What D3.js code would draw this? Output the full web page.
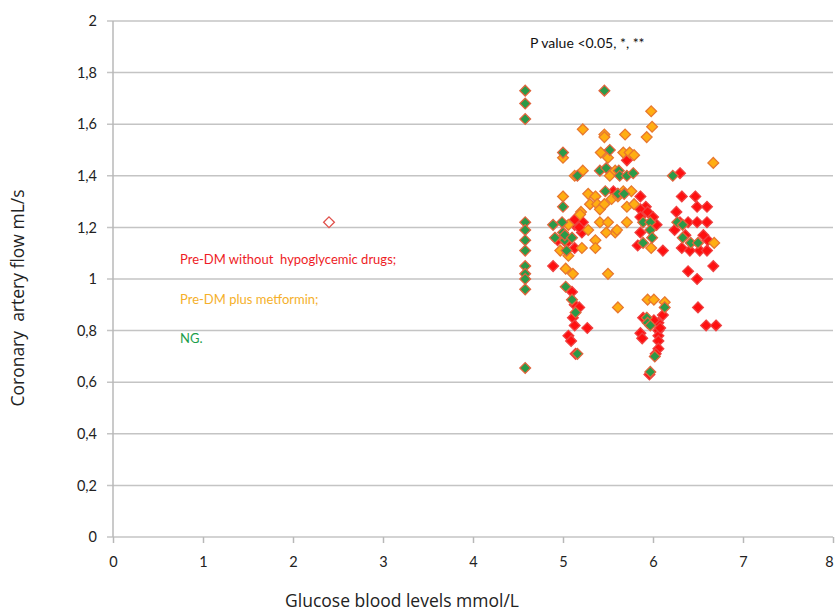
<!DOCTYPE html>
<html>
<head>
<meta charset="utf-8">
<script src="https://cdn.jsdelivr.net/npm/d3@7"></script>
<style>
  body { margin: 0; background: #fff; }
  svg { display: block; font-family: Lato, "Open Sans", sans-serif; }
</style>
</head>
<body>
<svg width="835" height="615"></svg>
<script>
//////////// DATA ////////////
// [glucose mmol/L, coronary flow mL/s]
var preDmNoDrug = [
  [4.89,1.05],[5.13,1.21],[5.22,1.22],[5.21,1.18],[5.13,1.12],[5.13,1.23],[4.94,1.15],[5.04,1.14],
  [5.10,0.95],[5.13,0.90],[5.18,0.89],[5.11,0.85],[5.13,0.82],[5.27,0.81],[5.06,0.78],[5.09,0.76],
  [5.14,0.71],[5.56,1.34],[5.71,1.46],[5.86,1.32],[5.92,1.28],[5.86,1.27],[5.94,1.26],[5.86,1.24],
  [6.00,1.24],[6.04,1.21],[5.86,1.18],[5.83,1.13],[6.11,1.11],[6.30,1.41],[6.32,1.32],[6.47,1.32],
  [6.49,1.28],[6.60,1.28],[6.26,1.26],[6.30,1.22],[6.39,1.22],[6.49,1.22],[6.60,1.22],[6.32,1.12],
  [6.41,1.11],[6.52,1.11],[6.60,1.11],[6.39,1.03],[6.49,1.00],[6.50,0.89],[6.59,0.82],[6.70,0.82],
  [6.67,1.05],[6.61,1.15],[5.89,0.85],[6.11,0.86],[6.06,0.83],[5.86,0.79],[5.88,0.77],[6.06,0.80],
  [6.06,0.78],[6.06,0.76],[6.06,0.73],[6.03,0.71],[5.96,0.63],[6.01,0.84],[6.08,0.81],[5.61,1.33],
  [6.24,1.19],[6.36,1.17],[6.56,1.17],[5.18,1.20]
];

var preDmMetformin = [
  [5.22,1.58],[5.46,1.56],[5.46,1.55],[5.00,1.47],[5.42,1.49],[5.50,1.47],[5.13,1.40],[5.22,1.42],
  [5.52,1.40],[5.58,1.42],[5.00,1.32],[5.28,1.33],[5.36,1.32],[5.30,1.29],[5.38,1.29],[5.41,1.27],
  [5.46,1.29],[5.54,1.31],[5.61,1.32],[5.20,1.26],[5.06,1.21],[5.19,1.25],[5.28,1.19],[5.36,1.15],
  [5.36,1.12],[5.21,1.12],[5.06,1.09],[5.03,1.04],[5.11,1.02],[5.41,1.22],[5.50,1.22],[5.58,1.18],
  [5.48,1.18],[5.50,1.02],[5.61,0.89],[5.98,1.65],[5.99,1.59],[5.93,1.55],[5.69,1.56],[5.67,1.49],
  [5.74,1.49],[5.79,1.48],[5.67,1.34],[5.76,1.34],[5.71,1.28],[5.79,1.29],[5.71,1.22],[5.60,1.19],
  [5.98,1.12],[5.94,0.92],[6.01,0.92],[6.13,0.91],[6.67,1.45],[6.68,1.14],[4.97,1.11]
];

var normoGlycemic = [
  [4.58,1.73],[4.58,1.68],[4.58,1.62],[4.58,1.22],[4.58,1.19],[4.58,1.15],[4.58,1.11],[4.58,1.05],
  [4.58,1.02],[4.58,1.00],[4.58,0.96],[4.58,0.655],
  [5.46,1.73],[5.00,1.49],[5.52,1.50],[5.16,1.40],[5.41,1.42],[5.48,1.43],[5.00,1.28],[5.47,1.34],
  [4.89,1.21],[4.99,1.22],[5.00,1.18],[4.91,1.16],[5.02,1.15],[5.04,1.11],[5.02,1.17],[5.10,1.16],
  [5.03,0.97],[5.10,0.92],[5.14,0.87],[5.16,0.71],[5.62,1.42],[5.63,1.40],[5.71,1.40],[5.78,1.41],
  [6.22,1.40],[5.61,1.33],[5.68,1.33],[5.89,1.22],[5.97,1.22],[5.97,1.19],[5.99,1.16],[5.89,1.14],
  [6.33,1.16],[6.42,1.14],[6.50,1.14],[6.27,1.22],[6.33,1.21],[6.13,0.89],[5.93,0.85],[5.94,0.83],
  [5.97,0.82],[6.02,0.70],[5.97,0.64]
];

var outlier = [[2.40,1.22]];

var xTicks = [0,1,2,3,4,5,6,7,8];
var yTicks = [0,0.2,0.4,0.6,0.8,1,1.2,1.4,1.6,1.8,2];

var legendLabels = ["Pre-DM without  hypoglycemic drugs;", "Pre-DM plus metformin;", "NG."];
var legendColors = ["#ee1c25", "#f5b02a", "#1b9e4b"];

//////////// SETUP ////////////
var svg = d3.select("svg");
var margin = {left: 113, right: 2, top: 21, bottom: 78};
var width = 835, height = 615;

var x = d3.scaleLinear().domain([0, 8]).range([margin.left, width - margin.right]);
var y = d3.scaleLinear().domain([0, 2]).range([height - margin.bottom, margin.top]);

var fmt = function(d) { return d3.format("")(+d.toFixed(1)).replace(".", ","); };

//////////// GRID + AXES ////////////
svg.append("g")
    .attr("class", "grid")
  .selectAll("line")
  .data(yTicks)
  .enter().append("line")
    .attr("x1", x(0) - 6)
    .attr("x2", x(8))
    .attr("y1", function(d) { return y(d); })
    .attr("y2", function(d) { return y(d); })
    .attr("stroke", "#c4c4c4")
    .attr("stroke-width", 1.5);

// vertical axis line
svg.append("line")
    .attr("x1", x(0)).attr("x2", x(0))
    .attr("y1", y(2)).attr("y2", y(0))
    .attr("stroke", "#b8b8b8")
    .attr("stroke-width", 1.5);

var yAxis = d3.axisLeft(y).tickValues(yTicks).tickSize(0).tickPadding(16).tickFormat(fmt);
svg.append("g")
    .attr("transform", "translate(" + x(0) + ",0)")
    .call(yAxis)
    .call(function(g) { g.select(".domain").remove(); })
    .selectAll("text")
    .attr("font-size", 14.5)
    .attr("font-family", "Lato, sans-serif")
    .attr("fill", "#222");

var xAxis = d3.axisBottom(x).tickValues(xTicks).tickSize(6).tickPadding(14).tickFormat(d3.format("d"));
var gx = svg.append("g")
    .attr("transform", "translate(0," + y(0) + ")")
    .call(xAxis);
gx.select(".domain").remove();
gx.selectAll("line").attr("stroke", "#b8b8b8").attr("stroke-width", 1.5);
gx.selectAll("text")
    .attr("font-size", 14.5)
    .attr("font-family", "Lato, sans-serif")
    .attr("fill", "#222")
    .attr("dx", function(d) { return d === 8 ? -4 : 0; });  // keep the last label inside

// axis titles
svg.append("text")
    .attr("x", 402)
    .attr("y", 607)
    .attr("text-anchor", "middle")
    .attr("font-size", 17.5)
    .attr("font-family", "'Open Sans', sans-serif")
    .attr("fill", "#222")
    .text("Glucose blood levels mmol/L");

svg.append("text")
    .attr("transform", "translate(24,298) rotate(-90)")
    .attr("text-anchor", "middle")
    .attr("font-size", 17.5)
    .attr("font-family", "'Open Sans', sans-serif")
    .attr("fill", "#222")
    .style("white-space", "pre")
    .text("Coronary  artery flow mL/s");

//////////// ANNOTATIONS ////////////
svg.append("text")
    .attr("x", 530)
    .attr("y", 48)
    .attr("font-size", 14)
    .attr("fill", "#111")
    .text("P value <0.05, *, **");

svg.append("g")
  .selectAll("text")
  .data(legendLabels)
  .enter().append("text")
    .attr("x", 180)
    .attr("y", function(d, i) { return 264 + i * 39.5; })
    .attr("font-size", 13)
    .attr("fill", function(d, i) { return legendColors[i]; })
    .style("white-space", "pre")
    .text(function(d) { return d; });

//////////// POINTS ////////////
var diamond = d3.symbol().type(d3.symbolDiamond2).size(74);

function drawSeries(data, fill, stroke, cls) {
  svg.append("g")
      .attr("class", cls)
    .selectAll("path")
    .data(data)
    .enter().append("path")
      .attr("d", diamond)
      .attr("transform", function(d) { return "translate(" + x(d[0]) + "," + y(d[1]) + ")"; })
      .attr("fill", fill)
      .attr("stroke", stroke)
      .attr("stroke-width", 1.3);
}

drawSeries(preDmNoDrug, "#ff1010", "#f04040", "red");
drawSeries(preDmMetformin, "#ffae12", "#e8782e", "orange");
drawSeries(normoGlycemic, "#2a9a48", "#e2643c", "green");
drawSeries(outlier, "#ffffff", "#e0504a", "open");
</script>
</body>
</html>
